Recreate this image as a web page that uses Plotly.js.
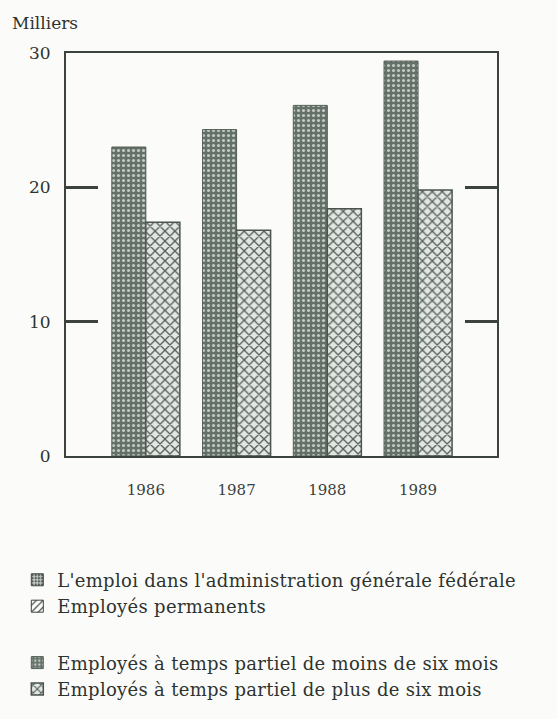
<!DOCTYPE html>
<html>
<head>
<meta charset="utf-8">
<script src="https://cdn.plot.ly/plotly-3.0.1.min.js"></script>
<style>
html,body{margin:0;padding:0;background:#fbfcfa;}
.legendtext{letter-spacing:0.3px;}
</style>
</head>
<body>
<div id="chart" style="width:557px;height:719px;"></div>
<script>
const years = ["1986", "1987", "1988", "1989"];
const xPos = [0, 1, 2, 3];
const moinsSixMois = [23.0, 24.3, 26.1, 29.4];
const plusSixMois = [17.4, 16.8, 18.4, 19.8];
const emptySeries = [null, null, null, null];

const nameTotal = "L'emploi dans l'administration générale fédérale";
const namePerm = "Employés permanents";
const nameMoins = "Employés à temps partiel de moins de six mois";
const namePlus = "Employés à temps partiel de plus de six mois";

const frame = "#3c433e";
const textCol = "#2e332f";

const traces = [
  {type: "bar", name: nameTotal, x: xPos, y: emptySeries, legendgroup: "a",
   marker: {color: "#a9b1ab", line: {color: frame, width: 1},
            pattern: {shape: ".", fgcolor: "#4d5650", bgcolor: "#c3c9c4", size: 4, solidity: 0.4}}},
  {type: "bar", name: namePerm, x: xPos, y: emptySeries, legendgroup: "a",
   marker: {color: "#ffffff", line: {color: frame, width: 1},
            pattern: {shape: "/", fgcolor: "#3c433e", bgcolor: "#ffffff", size: 6, solidity: 0.25}}},
  {type: "bar", name: nameMoins, x: xPos, y: moinsSixMois, legendgroup: "b",
   width: 0.375, offset: -0.375,
   marker: {color: "#616e65", line: {color: "#525e56", width: 1},
            pattern: {shape: ".", fgcolor: "#c3cac4", bgcolor: "#647168", size: 5, solidity: 0.3}}},
  {type: "bar", name: namePlus, x: xPos, y: plusSixMois, legendgroup: "b",
   width: 0.375, offset: 0,
   marker: {color: "#d5dad6", line: {color: "#4b554e", width: 1.5},
            pattern: {shape: "x", fgcolor: "#56615a", bgcolor: "#e3e7e3", size: 7, solidity: 0.35}}}
];

const layout = {
  width: 557, height: 719,
  paper_bgcolor: "#fbfcfa", plot_bgcolor: "#fbfcfa",
  margin: {l: 66, r: 60, t: 53, b: 261},
  barmode: "overlay",
  font: {family: "DejaVu Serif, serif", size: 16, color: textCol},
  xaxis: {
    range: [-0.88, 3.87], tickvals: xPos, ticktext: years,
    showgrid: false, zeroline: false, showline: true, mirror: true,
    linecolor: frame, linewidth: 2, ticks: "", ticklabelstandoff: 19,
    tickfont: {family: "DejaVu Serif, serif", size: 15, color: "#3a403c"}, fixedrange: true
  },
  yaxis: {
    range: [0, 30], tickvals: [0, 10, 20, 30], showgrid: false, zeroline: false,
    showline: true, mirror: "ticks", linecolor: frame, linewidth: 2,
    ticks: "inside", ticklen: 32, tickwidth: 2.5, tickcolor: frame,
    ticklabelstandoff: 10,
    tickfont: {family: "DejaVu Serif, serif", size: 17, color: textCol}, fixedrange: true
  },
  showlegend: true,
  legend: {
    x: -0.113, xanchor: "left", y: -0.262, yanchor: "top",
    orientation: "v", traceorder: "grouped", tracegroupgap: 30,
    bgcolor: "rgba(0,0,0,0)", itemwidth: 30,
    font: {family: "DejaVu Serif, serif", size: 18, color: textCol}
  },
  annotations: [
    {text: "Milliers", xref: "paper", yref: "paper", x: -0.13, y: 1.045,
     xanchor: "left", yanchor: "bottom", showarrow: false,
     font: {family: "DejaVu Serif, serif", size: 17, color: textCol}}
  ]
};

Plotly.newPlot("chart", traces, layout, {displayModeBar: false, staticPlot: true});
</script>
</body>
</html>
